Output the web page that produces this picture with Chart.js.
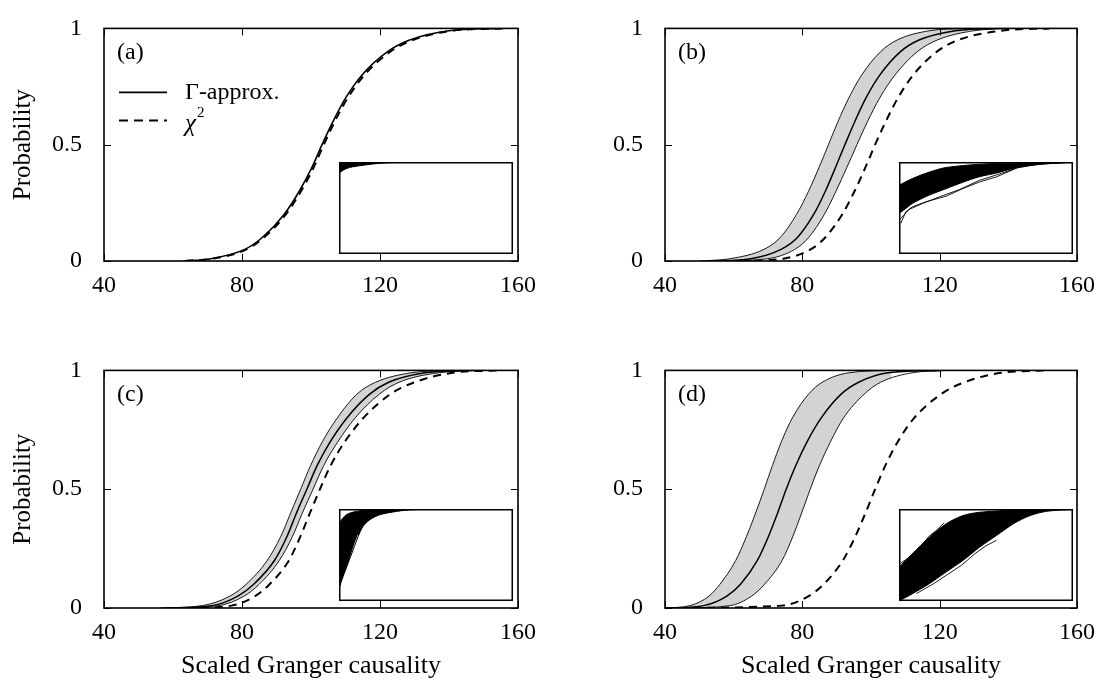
<!DOCTYPE html>
<html>
<head>
<meta charset="utf-8">
<script src="https://cdn.jsdelivr.net/npm/chart.js@4.4.1/dist/chart.umd.min.js"></script>
<style>
  body { margin: 0; background: #fff; }
  #fig { position: relative; width: 1101px; height: 684px; }
  canvas { position: absolute; }
  .inset { background: #fff; }
</style>
</head>
<body>
<div id="fig">
  <canvas id="pa" width="550" height="342" style="left:0px;top:0px"></canvas>
  <canvas id="pb" width="551" height="342" style="left:550px;top:0px"></canvas>
  <canvas id="pc" width="550" height="342" style="left:0px;top:342px"></canvas>
  <canvas id="pd" width="551" height="342" style="left:550px;top:342px"></canvas>
  <canvas id="ia" class="inset" width="174" height="92" style="left:339px;top:162px"></canvas>
  <canvas id="ib" class="inset" width="174" height="92" style="left:899px;top:162px"></canvas>
  <canvas id="ic" class="inset" width="174" height="92" style="left:339px;top:509px"></canvas>
  <canvas id="id" class="inset" width="174" height="92" style="left:899px;top:509px"></canvas>
</div>
<script>
const xTicks = [40, 80, 120, 160];
const yTicks = [0, 0.5, 1];

// probability levels; every curve below gives the scaled GC value at each level
const pLevels = [0, 0.01, 0.05, 0.1, 0.2, 0.3, 0.4, 0.5, 0.6, 0.7, 0.8, 0.9, 0.95, 0.99, 1];

// (a)
const aGamma = [63, 71, 80.8, 85.8, 92.2, 96.6, 100.2, 103.2, 106.4, 110.0, 114.8, 122.2, 128.6, 140, 155];
const aChi2  = [63.5, 71.5, 81.3, 86.3, 92.7, 97.1, 100.7, 103.7, 106.9, 110.6, 115.5, 123, 129.5, 141, 156];

// (b)
const bUpper = [50, 59, 68.8, 73.5, 78.3, 81.8, 84.8, 87.6, 90.4, 93.5, 97.3, 102.8, 107.6, 117, 128];
const bMid   = [53, 65, 73.8, 78.5, 83.3, 86.7, 89.6, 92.4, 95.3, 98.5, 102.6, 108.6, 114, 124.5, 136];
const bLower = [56, 70, 77.8, 81.8, 86.4, 89.8, 92.9, 95.9, 99, 102.5, 107, 113.5, 119.3, 130, 142];
const bChi2  = [62, 74.5, 82.4, 86.6, 91.6, 95.2, 98.3, 101.2, 104.3, 107.8, 112.3, 119.2, 125.4, 137.8, 152];

// (c)
const cUpper = [56, 68.5, 76.5, 81.2, 87.3, 91.2, 94.1, 97, 99.9, 103.3, 107.6, 113.3, 118.7, 129, 140];
const cMid   = [58, 71.3, 78.8, 83.4, 89.4, 93, 95.8, 98.8, 101.8, 105.6, 110.4, 117, 122.5, 133, 144];
const cLower = [60, 73.3, 80.6, 85, 90.8, 94.6, 97.5, 100.6, 103.7, 107.8, 112.8, 119.8, 125.5, 137, 150];
const cChi2  = [64, 77, 83.8, 88, 93.6, 96.9, 99.7, 102.6, 105.7, 109.8, 115.2, 123, 130, 141, 155];

// (d)
const dUpper = [40, 47.3, 52.8, 56, 60.6, 63.7, 66.4, 68.9, 71.3, 73.9, 77.1, 81.8, 85.8, 93.5, 106];
const dMid   = [41, 51.3, 58, 62, 66.9, 70.1, 72.8, 75.3, 78.1, 81.4, 85.5, 91.3, 96.4, 105, 120];
const dLower = [45, 59, 65.2, 69, 74.1, 77.2, 79.8, 82.3, 85, 88.2, 92, 98, 102.8, 112, 122];
const dChi2  = [40, 74, 81.8, 86.2, 91.8, 95.4, 98.4, 101.2, 104.2, 107.8, 112.6, 120.4, 127.2, 138, 152];

// insets: unit box, no axes; [x, y] pairs
const iaTop = [[0,1],[1,1]];
const iaBottom = [[0,0.876],[0.023,0.91],[0.06,0.94],[0.14,0.965],[0.23,0.985],[0.33,0.995],[1,1]];

const ibTop = [[0,0.747],[0.077,0.82],[0.174,0.89],[0.27,0.94],[0.463,0.975],[0.656,0.99],[1,1]];
const ibBottom = [[0,0.44],[0.039,0.495],[0.077,0.55],[0.174,0.64],[0.27,0.71],[0.367,0.78],[0.463,0.84],[0.56,0.88],[0.656,0.93],[0.753,0.964],[0.849,0.98],[1,1]];
const ibOut1 = [[0.01,0.332],[0.039,0.458],[0.077,0.513],[0.154,0.567],[0.27,0.628],[0.367,0.711],[0.463,0.783],[0.56,0.838],[0.656,0.917],[0.695,0.953],[0.849,0.982],[1,0.996]];
const ibOut2 = [[0,0.368],[0.058,0.484],[0.135,0.549],[0.232,0.621],[0.347,0.7],[0.463,0.801],[0.56,0.859],[0.676,0.935],[0.8,0.975]];

const icTop = [[0,0.847],[0.042,0.938],[0.1,0.974],[0.177,0.993],[0.331,1],[1,1]];
const icBottom = [[0,0.135],[0.023,0.263],[0.052,0.409],[0.081,0.555],[0.11,0.7],[0.138,0.81],[0.177,0.883],[0.235,0.938],[0.331,0.974],[0.427,0.993],[1,1]];
const icGap1 = [[0.02,0.2],[0.045,0.34],[0.07,0.5],[0.09,0.62],[0.11,0.72]];
const icGap2 = [[0.04,0.22],[0.06,0.33],[0.08,0.45],[0.1,0.58],[0.12,0.68]];

const idTop = [[0,0.368],[0.077,0.513],[0.174,0.693],[0.27,0.838],[0.367,0.928],[0.463,0.964],[0.656,0.989],[0.753,1],[1,1]];
const idBottom = [[0,0],[0.077,0.079],[0.174,0.188],[0.27,0.314],[0.367,0.44],[0.463,0.585],[0.56,0.711],[0.656,0.838],[0.753,0.928],[0.849,0.975],[1,0.996]];
const idOut1 = [[0,0.4],[0.04,0.45],[0.09,0.53],[0.13,0.6],[0.17,0.7],[0.21,0.76],[0.26,0.85]];
const idOut2 = [[0.1,0.08],[0.2,0.19],[0.28,0.29],[0.36,0.39],[0.44,0.52],[0.5,0.6],[0.56,0.66]];

const SERIF = "'Liberation Serif', 'Times New Roman', serif";
Chart.defaults.font.family = SERIF;
Chart.defaults.color = '#000';

const curve = xs => xs.map((x, i) => ({ x: x, y: pLevels[i] }));
const pts = arr => arr.map(p => ({ x: p[0], y: p[1] }));

const frameTicks = {
    id: 'frameTicks',
    afterDraw(chart) {
        const { ctx, chartArea: ca, scales: { x, y } } = chart;
        ctx.save();
        ctx.strokeStyle = '#000';
        ctx.lineWidth = 1;
        ctx.beginPath();
        x.ticks.forEach(t => {
            const px = Math.round(x.getPixelForValue(t.value)) + 0.5;
            ctx.moveTo(px, ca.bottom); ctx.lineTo(px, ca.bottom - 7);
            ctx.moveTo(px, ca.top); ctx.lineTo(px, ca.top + 7);
        });
        y.ticks.forEach(t => {
            const py = Math.round(y.getPixelForValue(t.value)) + 0.5;
            ctx.moveTo(ca.left, py); ctx.lineTo(ca.left + 7, py);
            ctx.moveTo(ca.right, py); ctx.lineTo(ca.right - 7, py);
        });
        ctx.stroke();
        ctx.lineWidth = 1.6;
        ctx.strokeRect(ca.left, ca.top, ca.right - ca.left, ca.bottom - ca.top);
        ctx.restore();
    }
};

const notes = {
    id: 'notes',
    afterDraw(chart, args, opts) {
        const { ctx, chartArea: ca } = chart;
        ctx.save();
        ctx.fillStyle = '#000';
        ctx.textBaseline = 'middle';
        ctx.font = '24px ' + SERIF;
        ctx.fillText(opts.label, ca.left + 13, ca.top + 24);
        if (opts.legend) {
            ctx.strokeStyle = '#000';
            ctx.lineWidth = 1.6;
            ctx.beginPath();
            ctx.moveTo(ca.left + 15, ca.top + 64); ctx.lineTo(ca.left + 63, ca.top + 64);
            ctx.stroke();
            ctx.setLineDash([9, 6]);
            ctx.lineWidth = 2;
            ctx.beginPath();
            ctx.moveTo(ca.left + 15, ca.top + 92); ctx.lineTo(ca.left + 63, ca.top + 92);
            ctx.stroke();
            ctx.setLineDash([]);
            ctx.fillText('Γ-approx.', ca.left + 81, ca.top + 64);
            ctx.font = 'italic 25px ' + SERIF;
            ctx.fillText('χ', ca.left + 81, ca.top + 96);
            const w = ctx.measureText('χ').width;
            ctx.font = '15px ' + SERIF;
            ctx.fillText('2', ca.left + 81 + w + 1, ca.top + 85);
        }
        ctx.restore();
    }
};

const boxBorder = {
    id: 'boxBorder',
    afterDraw(chart) {
        const { ctx, chartArea: ca } = chart;
        ctx.save();
        ctx.strokeStyle = '#000';
        ctx.lineWidth = 1.5;
        ctx.strokeRect(ca.left + 0.75, ca.top + 0.75, ca.right - ca.left - 1.5, ca.bottom - ca.top - 1.5);
        ctx.restore();
    }
};

function band(upper, mid, lower, chi2) {
    return [
        { data: curve(upper), borderColor: '#000', borderWidth: 0.9, fill: '+1', backgroundColor: '#d3d3d3' },
        { data: curve(lower), borderColor: '#000', borderWidth: 0.9, fill: false },
        { data: curve(mid), borderColor: '#000', borderWidth: 1.5, fill: false },
        { data: curve(chi2), borderColor: '#000', borderWidth: 2, borderDash: [8, 6], fill: false }
    ];
}

function panel(id, datasets, o) {
    return new Chart(document.getElementById(id), {
        type: 'line',
        data: { datasets: datasets },
        options: {
            responsive: false,
            animation: false,
            events: [],
            layout: { padding: { left: 0, top: o.top, right: o.right, bottom: 0 } },
            elements: { point: { radius: 0 }, line: { cubicInterpolationMode: 'monotone' } },
            plugins: {
                legend: { display: false },
                tooltip: { enabled: false },
                filler: { drawTime: 'beforeDatasetsDraw' },
                notes: { label: o.label, legend: !!o.legend }
            },
            scales: {
                x: {
                    type: 'linear', min: 40, max: 160,
                    afterBuildTicks: s => { s.ticks = xTicks.map(v => ({ value: v })); },
                    afterFit: s => { s.height = o.xh; },
                    grid: { display: false },
                    border: { display: false },
                    ticks: { font: { family: SERIF, size: 24 }, padding: 2, maxRotation: 0 },
                    title: { display: !!o.xTitle, text: 'Scaled Granger causality', font: { family: SERIF, size: 26 }, padding: { top: 0, bottom: 2 } }
                },
                y: {
                    type: 'linear', min: 0, max: 1,
                    afterBuildTicks: s => { s.ticks = yTicks.map(v => ({ value: v })); },
                    afterFit: s => { s.width = o.yw; },
                    grid: { display: false },
                    border: { display: false },
                    ticks: { font: { family: SERIF, size: 24 }, padding: 14, callback: v => String(v) },
                    title: { display: !!o.yTitle, text: 'Probability', font: { family: SERIF, size: 25 }, padding: { top: 8, bottom: 0 } }
                }
            }
        },
        plugins: [frameTicks, notes]
    });
}

function inset(id, datasets) {
    return new Chart(document.getElementById(id), {
        type: 'line',
        data: { datasets: datasets },
        options: {
            responsive: false,
            animation: false,
            events: [],
            layout: { padding: 0 },
            elements: { point: { radius: 0 } },
            plugins: {
                legend: { display: false },
                tooltip: { enabled: false },
                filler: { drawTime: 'beforeDatasetsDraw' }
            },
            scales: {
                x: { type: 'linear', min: 0, max: 1, display: false },
                y: { type: 'linear', min: 0, max: 1, display: false }
            }
        },
        plugins: [boxBorder]
    });
}

function cloud(top, bottom, extra) {
    const ds = [
        { data: pts(top), borderColor: '#000', borderWidth: 1, fill: '+1', backgroundColor: '#000', tension: 0.3 },
        { data: pts(bottom), borderColor: '#000', borderWidth: 1, fill: false, tension: 0.3 }
    ];
    (extra || []).forEach(e => ds.push({ data: pts(e.d), borderColor: e.c, borderWidth: 0.9, fill: false, tension: 0 }));
    return ds;
}

panel('pa', [
    { data: curve(aChi2), borderColor: '#000', borderWidth: 2, borderDash: [8, 6], fill: false },
    { data: curve(aGamma), borderColor: '#000', borderWidth: 1.6, fill: false }
], { top: 16, right: 32, xh: 81, yw: 104, label: '(a)', legend: true, yTitle: true });

panel('pb', band(bUpper, bMid, bLower, bChi2), { top: 16, right: 24, xh: 81, yw: 115, label: '(b)' });
panel('pc', band(cUpper, cMid, cLower, cChi2), { top: 21, right: 32, xh: 76, yw: 104, label: '(c)', yTitle: true, xTitle: true });
panel('pd', band(dUpper, dMid, dLower, dChi2), { top: 21, right: 24, xh: 76, yw: 115, label: '(d)', xTitle: true });

inset('ia', cloud(iaTop, iaBottom));
inset('ib', cloud(ibTop, ibBottom, [{ d: ibOut1, c: '#000' }, { d: ibOut2, c: '#000' }]));
inset('ic', cloud(icTop, icBottom, [{ d: icGap1, c: '#fff' }, { d: icGap2, c: '#fff' }]));
inset('id', cloud(idTop, idBottom, [{ d: idOut1, c: '#000' }, { d: idOut2, c: '#000' }]));
</script>
</body>
</html>
